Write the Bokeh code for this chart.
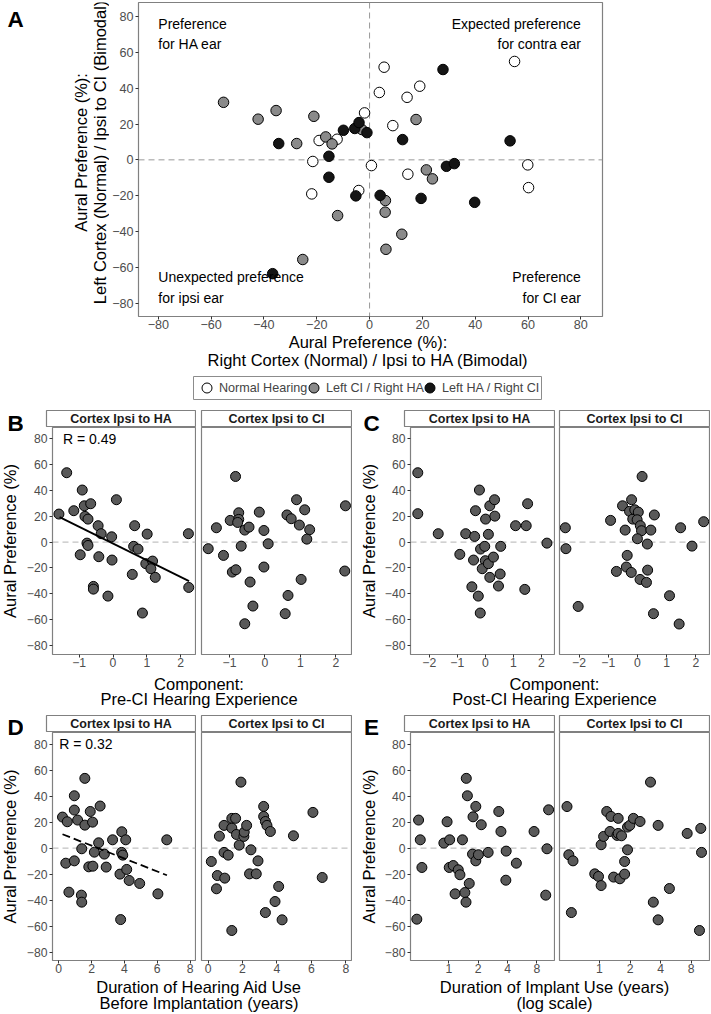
from math import pi
from bokeh.plotting import figure
from bokeh.models import (Range1d, Span, FixedTicker, Legend, LegendItem,
                          Spacer, BasicTickFormatter)
from bokeh.layouts import row, column
from bokeh.embed import file_html
from bokeh.resources import INLINE
from bokeh.core.properties import value

FONT = "Liberation Sans"
NAN = float("nan")

# ---------------- data ----------------
pref_ticks = [-80, -60, -40, -20, 0, 20, 40, 60, 80]
facet_names = ["Cortex Ipsi to HA", "Cortex Ipsi to CI"]
legend_names = ["Normal Hearing", "Left CI / Right HA", "Left HA / Right CI"]
group_fills = ["white", "#8a8a8a", "#151515"]

# Panel A
A_nh_x = [5.5, 54.9, 3.7, 19.0, 14.2, -1.9, 8.8, 0.7, 14.5, 59.9, 60.2, -4.1, -12.3, -19.1, -21.5, -21.9]
A_nh_y = [51.7, 54.9, 37.6, 41.1, 34.9, 26.2, 19.1, -3.2, -8.0, -2.8, -15.5, -17.1, 11.5, 10.8, -0.9, -19.0]
A_lci_x = [-55.3, -42.2, -35.4, -21.1, -27.6, -16.6, -14.2, -2.9, -12.1, 6.0, 5.9, 12.2, 6.2, -25.3, 17.6, 21.5, 23.8]
A_lci_y = [32.1, 22.7, 27.5, 24.3, 9.1, 12.8, 8.9, 16.9, -31.1, -22.7, -29.2, -41.5, -49.9, -55.6, 22.5, -5.6, -10.6]
A_lha_x = [-34.4, -15.4, -15.4, -9.9, -5.6, -4.0, -1.0, -5.2, 4.0, 12.5, 19.5, -36.7, 27.8, 53.2, 29.1, 32.1, 39.8]
A_lha_y = [9.1, 2.0, -9.7, 16.5, 17.5, 20.8, 15.2, -20.1, -19.8, 11.3, -21.5, -63.5, 50.4, 10.6, -3.6, -2.1, -23.7]
A_quadrant_text_left = ["Preference", "for HA ear", "Unexpected preference", "for ipsi ear"]
A_quadrant_text_right = ["Expected preference", "for contra ear", "Preference", "for CI ear"]
A_xtitle = ["Aural Preference (%):", "Right Cortex (Normal) / Ipsi to HA (Bimodal)"]
A_ytitle = ["Aural Preference (%):", "Left Cortex (Normal) / Ipsi to CI (Bimodal)"]

# Panel B: Pre-CI component
B_xticks = [-1, 0, 1, 2]
B_ha_x = [-1.60, -1.37, -1.16, -0.91, -0.85, -0.66, -0.83, -0.74, 0.10, -0.44, -0.35, 0.64, -0.04, 1.01, 2.23, -0.77,
          -0.74, -0.97, -0.42, -0.03, 0.61, 0.74, 0.57, 0.97, 1.17, 1.12, 1.25, 2.24, -0.58, -0.58, -0.15, 0.87]
B_ha_y = [21.7, 53.7, 24.3, 40.3, 28.1, 29.7, 19.9, 17.8, 32.8, 12.7, 6.5, 12.7, 4.1, 6.2, 6.5, -0.8,
          -2.6, -9.8, -11.3, -13.9, -3.3, -5.4, -25.0, -16.7, -14.7, -20.6, -27.3, -35.1, -34.3, -36.4, -41.8, -54.9]
B_ci_x = [-1.60, -1.37, -1.17, -0.98, -0.83, -0.74, -0.74, -0.77, -0.92, -0.82, -0.67, -0.57, -0.45, -0.42, -0.34, -0.57,
          -0.16, -0.03, 0.09, -0.03, 0.62, 0.74, 0.89, 0.97, 1.12, 1.26, 1.18, 1.02, 0.65, 0.57, 2.27, 2.25]
B_ci_y = [-5.1, 11.1, -10.3, 16.8, 50.8, 22.7, 17.6, 15.2, -23.2, -21.4, -3.1, 9.3, 11.6, -30.9, -49.5, -63.2,
          23.2, 9.0, -1.3, -19.3, 21.0, 18.1, 32.8, 13.2, 25.0, 9.6, 2.3, -28.9, -41.3, -55.4, 28.1, -22.4]
B_fit_x = [-1.58, 2.25]
B_fit_y = [19.3, -30.2]
B_r_text = "R = 0.49"

# Panel C: Post-CI component
C_xticks = [-2, -1, 0, 1, 2]
C_ha_x = [-2.41, -2.41, -1.68, -0.91, -0.70, -0.38, -0.35, -0.21, -0.42, -0.48, -0.25, -0.18, -0.17, -0.02, 0.01, 0.11,
          0.16, 0.33, 0.34, 0.00, -0.11, 0.11, 0.29, 0.16, 0.47, 0.55, 0.53, 1.08, 1.46, 1.41, 1.51, 2.20]
C_ha_y = [53.7, 22.0, 6.5, -9.5, 6.5, 4.4, 24.3, 40.3, -13.9, -34.6, -41.8, -54.9, -5.4, -3.3, 17.8, 6.0,
          28.1, 32.8, 20.1, -14.4, -20.6, -16.7, -11.6, -27.3, -34.0, -3.3, -24.7, 12.7, 12.7, -36.6, 29.7, -0.8]
C_ci_x = [-2.47, -2.45, -2.03, -0.92, -0.72, -0.51, -0.42, -0.35, -0.38, -0.21, -0.20, -0.27, -0.16, -0.09, 0.03, -0.01,
          0.10, 0.14, 0.00, 0.09, 0.31, 0.35, 0.34, 0.16, 0.46, 0.58, 0.55, 1.10, 1.43, 1.48, 1.87, 2.27]
C_ci_y = [11.1, -5.1, -49.8, 16.8, -22.7, 28.1, 9.3, -10.3, -19.3, -23.5, 32.8, 23.8, 17.8, 25.0, 23.2, 17.3,
          12.7, 8.8, 2.6, -28.9, -31.2, -21.7, -1.5, 50.8, 9.3, 21.0, -55.4, -41.5, -63.4, 11.1, -3.1, 15.8]

# Panel D: hearing aid duration (years)
D_xticks = [0, 2, 4, 6, 8]
D_ha_x = [0.23, 0.52, 0.43, 0.95, 0.95, 1.15, 0.95, 0.62, 1.38, 1.40, 1.40, 1.59, 1.59, 1.83, 2.08, 1.92, 2.06,
          2.17, 2.43, 2.52, 2.78, 2.89, 3.28, 3.73, 3.77, 3.84, 3.83, 3.90, 4.08, 4.14, 4.29, 4.93, 6.04, 6.58]
D_ha_y = [23.9, 20.3, -11.6, 40.3, 29.3, 21.6, -9.8, -33.9, -36.2, -41.6, -0.5, 53.7, 17.7, -14.4, -13.9, 28.2, 20.0,
          -3.1, 4.1, 32.4, -4.6, -14.6, 6.4, -20.0, -55.0, 12.6, -3.3, -5.4, 6.4, -16.4, -24.9, -27.2, -35.2, 6.4]
D_ci_x = [0.19, 0.54, 0.49, 0.66, 0.93, 0.97, 0.93, 1.17, 1.38, 1.60, 1.38, 1.65, 1.91, 1.81, 2.08, 2.10, 2.24,
          1.38, 2.49, 2.41, 2.80, 2.90, 3.33, 3.23, 3.23, 3.33, 3.42, 3.62, 3.89, 4.10, 4.30, 4.96, 6.09, 6.63]
D_ci_y = [-10.3, -21.1, -31.3, 9.2, 17.5, -23.1, -3.3, -5.4, 22.9, 22.9, 15.4, 10.5, 50.8, 2.3, 9.0, 12.3, 17.5,
          -63.4, -1.3, -19.8, -19.8, -9.8, -49.6, 32.1, 24.4, 20.5, 17.5, 12.8, -41.1, -29.5, -55.2, 9.5, 27.5, -22.6]
D_fit_x = [0.23, 6.59]
D_fit_y = [10.7, -20.9]
D_r_text = "R = 0.32"

# Panel E: implant duration (years, log scale)
E_xticks = [1, 2, 4, 8]
E_ha_x = [0.47, 0.49, 0.51, 0.53, 0.96, 0.89, 1.02, 1.01, 1.11, 1.25, 1.30, 1.16, 1.38, 1.51, 1.55, 1.46, 1.50,
          1.62, 1.77, 1.89, 1.75, 1.89, 2.01, 2.15, 2.53, 3.25, 3.42, 3.87, 3.84, 4.92, 7.47, 10.53, 10.13, 9.84]
E_ha_y = [-54.7, 21.6, 6.4, -14.9, 20.3, 3.9, 6.4, -14.9, -13.4, -16.7, -20.5, -35.2, 6.4, 53.7, 40.3, -34.2, -41.6,
          -27.2, 24.1, 32.1, -4.6, -9.8, -5.1, 18.0, -3.3, 28.2, 12.8, -2.3, -24.7, -11.6, 12.8, 29.5, -0.5, -36.2]
E_ci_x = [0.48, 0.50, 0.55, 0.53, 0.90, 0.98, 1.04, 1.04, 1.10, 1.18, 1.30, 1.27, 1.38, 1.49, 1.53, 1.53, 1.59,
          1.65, 1.77, 1.77, 1.89, 1.89, 1.99, 2.16, 2.51, 3.18, 3.39, 3.78, 3.78, 4.88, 7.30, 9.93, 10.1, 9.64]
E_ci_y = [32.0, -5.1, -9.8, -49.6, -19.8, -21.8, -28.8, 2.6, 9.0, 28.2, 24.4, 12.8, -22.3, 9.8, 22.9, 11.3, -23.6,
          9.5, -10.3, -20.0, -1.3, 16.2, 17.5, 22.9, 20.5, 50.8, -41.6, 17.5, -55.2, -31.1, 11.3, 15.2, -3.3, -63.4]

# ---------------- style helpers ----------------
FRAME = "#808080"
TITLE_SIZE = "16.5px"


def style_axes(p, tick_size):
    p.grid.visible = False
    p.outline_line_color = FRAME
    p.outline_line_width = 1.2
    for ax in p.axis:
        ax.axis_line_color = None
        ax.major_tick_line_color = "#333333"
        ax.major_tick_in = 0
        ax.major_tick_out = 3
        ax.minor_tick_line_color = None
        ax.major_label_text_font = FONT
        ax.major_label_text_font_size = tick_size
        ax.major_label_text_color = "#4d4d4d"
    for ax in p.xaxis:
        ax.major_label_standoff = 0
    for ax in p.yaxis:
        ax.major_label_standoff = 2


def text_fig(w, h):
    p = figure(width=w, height=h, x_range=Range1d(0, w), y_range=Range1d(0, h),
               toolbar_location=None, output_backend="svg", min_border=0,
               x_axis_location=None, y_axis_location=None)
    p.outline_line_color = None
    p.grid.visible = False
    return p


def put_text(p, x, y_top, txt, size, bold=False, angle=0.0, align="center"):
    p.text(x=[x], y=[p.height - y_top], text=[txt], angle=angle,
           text_align=value(align), text_baseline=value("middle"),
           text_font=value(FONT), text_font_size=value(size),
           text_font_style=value("bold" if bold else "normal"), text_color="black")


def strip_fig(label, fw):
    p = figure(width=fw + 2, height=18, x_range=Range1d(0, fw), y_range=Range1d(0, 17),
               toolbar_location=None, output_backend="svg",
               min_border_left=1, min_border_right=1, min_border_top=1, min_border_bottom=0,
               x_axis_location=None, y_axis_location=None)
    p.grid.visible = False
    p.outline_line_color = FRAME
    p.outline_line_width = 1.2
    p.text(x=[fw / 2], y=[8.3], text=[label], text_align=value("center"), text_baseline=value("middle"),
           text_font=value(FONT), text_font_size=value("12.5px"), text_font_style=value("bold"),
           text_color="#1a1a1a")
    return p


def facet_fig(w, left, frame_h, xr, yr, xticks, xs, ys, xlog=False, yaxis=True):
    p = figure(width=w, height=frame_h + 17, x_range=Range1d(*xr), y_range=Range1d(*yr),
               x_axis_type="log" if xlog else "linear",
               y_axis_location="left" if yaxis else None,
               toolbar_location=None, output_backend="svg",
               min_border_left=left, min_border_right=1, min_border_top=0, min_border_bottom=17)
    style_axes(p, "12.2px")
    p.xaxis.ticker = FixedTicker(ticks=xticks)
    if xlog:
        p.xaxis.formatter = BasicTickFormatter()
    if yaxis:
        p.yaxis.ticker = FixedTicker(ticks=pref_ticks)
    p.add_layout(Span(location=0, dimension="width", line_color="#b3b3b3",
                      line_dash="6 4", line_width=1, level="underlay"))
    p.scatter(xs, ys, size=10, fill_color="#595959", line_color="black", line_width=1)
    return p


def r_text(p, x, txt):
    p.text(x=[x], y=[80], text=[txt], text_align=value("left"), text_baseline=value("middle"),
           text_font=value(FONT), text_font_size=value("14px"), text_color="black")


# ---------------- Panel A ----------------
textA = text_fig(109, 333)
put_text(textA, 15, 17.5, "A", "22.5px", bold=True)
put_text(textA, 80.5, 159, A_ytitle[0], TITLE_SIZE, angle=pi / 2)
put_text(textA, 99, 159, A_ytitle[1], TITLE_SIZE, angle=pi / 2)

pA = figure(width=602, height=333, x_range=Range1d(-87.5, 88.2), y_range=Range1d(-87.4, 87.8),
            toolbar_location=None, output_backend="svg",
            min_border_left=24, min_border_right=109, min_border_top=2, min_border_bottom=17)
style_axes(pA, "12.6px")
pA.xaxis.ticker = FixedTicker(ticks=pref_ticks)
pA.yaxis.ticker = FixedTicker(ticks=pref_ticks)
pA.add_layout(Span(location=0, dimension="width", line_color="#999999", line_dash="6 4",
                   line_width=1, level="underlay"))
pA.add_layout(Span(location=0, dimension="height", line_color="#999999", line_dash="6 4",
                   line_width=1, level="underlay"))
pA.scatter(A_nh_x, A_nh_y, size=10.5, fill_color=group_fills[0], line_color="black", line_width=1)
pA.scatter(A_lci_x, A_lci_y, size=10.5, fill_color=group_fills[1], line_color="black", line_width=1)
pA.scatter(A_lha_x, A_lha_y, size=10.5, fill_color=group_fills[2], line_color="black", line_width=1)

pA.text(x=[-80, -80, -80, -80], y=[75.8, 64.9, -65.6, -76.8], text=A_quadrant_text_left,
        text_align=value("left"), text_baseline=value("middle"),
        text_font=value(FONT), text_font_size=value("14px"), text_color="black")
pA.text(x=[80, 80, 80, 80], y=[75.8, 64.9, -65.6, -76.8], text=A_quadrant_text_right,
        text_align=value("right"), text_baseline=value("middle"),
        text_font=value(FONT), text_font_size=value("14px"), text_color="black")

titleA = text_fig(711, 42)
put_text(titleA, 367.5, 8.5, A_xtitle[0], TITLE_SIZE)
put_text(titleA, 367.5, 26, A_xtitle[1], TITLE_SIZE)

# legend box (key renderers hold a single non-finite point, so only the legend keys show)
legbox = figure(width=350, height=25, x_range=Range1d(0, 348), y_range=Range1d(0, 23),
                toolbar_location=None, output_backend="svg", min_border=1,
                x_axis_location=None, y_axis_location=None)
legbox.grid.visible = False
legbox.outline_line_color = "#8c8c8c"
legbox.outline_line_width = 1
for name, fill, lx in zip(legend_names, group_fills, [1, 108, 224]):
    key = legbox.scatter(x=[NAN], y=[NAN], size=10.5, fill_color=fill, line_color="black", line_width=1)
    leg = Legend(items=[LegendItem(label=name, renderers=[key])],
                 orientation="horizontal", location=(lx, -1),
                 glyph_width=25, glyph_height=25, padding=0, spacing=0, label_standoff=0,
                 margin=0, border_line_color=None, background_fill_alpha=0,
                 label_text_font=FONT, label_text_font_size="12.6px", label_height=25)
    legbox.add_layout(leg, "center")

topA = column(row(textA, pA),
              titleA,
              row(Spacer(width=192, height=25), legbox, Spacer(width=169, height=25)),
              Spacer(width=711, height=9))


# ---------------- facet panels ----------------
def half_block(letter, tl, al, fwL, gap, fwR, pad, frame_h, yr, letter_y, xr, xticks,
               ha_x, ha_y, ci_x, ci_y, xlog=False, letter_x=15.0, ytitle_x=9.2,
               fit=None, fit_dash=None, rtxt=None, rx=None):
    tcol = text_fig(tl, 18 + frame_h + 17)
    put_text(tcol, letter_x, letter_y, letter, "22.5px", bold=True)
    put_text(tcol, ytitle_x, 18 + frame_h / 2, "Aural Preference (%)", TITLE_SIZE, angle=pi / 2)
    strips = row(Spacer(width=al - 1, height=18), strip_fig(facet_names[0], fwL),
                 Spacer(width=gap - 2, height=18), strip_fig(facet_names[1], fwR),
                 Spacer(width=pad, height=18))
    fl = facet_fig(al + fwL + 1, al, frame_h, xr, yr, xticks, ha_x, ha_y, xlog=xlog, yaxis=True)
    fr = facet_fig(gap - 1 + fwR + 1, gap - 1, frame_h, xr, yr, xticks, ci_x, ci_y, xlog=xlog, yaxis=False)
    if fit is not None:
        if fit_dash:
            fl.line(fit[0], fit[1], line_color="black", line_width=1.8, line_dash=fit_dash)
        else:
            fl.line(fit[0], fit[1], line_color="black", line_width=1.8)
    if rtxt is not None:
        r_text(fl, rx, rtxt)
    facets = row(fl, fr, Spacer(width=pad, height=frame_h + 17))
    return row(tcol, column(strips, facets))


def title_block(w, h, cx, lines, tops):
    t = text_fig(w, h)
    for ln, tp in zip(lines, tops):
        put_text(t, cx, tp, ln, TITLE_SIZE)
    return t


B_xrange = (-1.79, 2.44)
C_xrange = (-2.67, 2.47)
D_xrange = (-0.38, 8.33)
E_xrange = (0.405, 12.1)
BC_yrange = (-87.0, 88.7)
DE_yrange = (-86.5, 89.0)

blockB = half_block("B", 23, 23, 149, 6, 150, 3, 227, BC_yrange, 13.5, B_xrange, B_xticks,
                    B_ha_x, B_ha_y, B_ci_x, B_ci_y,
                    fit=(B_fit_x, B_fit_y), rtxt=B_r_text, rx=-1.48)
titleB = title_block(355, 43, 198.5, ["Component:", "Pre-CI Hearing Experience"], [12, 27])
blockD = half_block("D", 23, 23, 149, 6, 150, 3, 228, DE_yrange, 12.5, D_xrange, D_xticks,
                    D_ha_x, D_ha_y, D_ci_x, D_ci_y,
                    fit=(D_fit_x, D_fit_y), fit_dash="8 4", rtxt=D_r_text, rx=0.03)
titleD = title_block(355, 35, 198.5, ["Duration of Hearing Aid Use", "Before Implantation (years)"], [9, 25])

blockC = half_block("C", 26, 23, 150, 5, 150, 1, 227, BC_yrange, 13.5, C_xrange, C_xticks,
                    C_ha_x, C_ha_y, C_ci_x, C_ci_y, letter_x=16.0, ytitle_x=13.7)
titleC = title_block(356, 43, 199, ["Component:", "Post-CI Hearing Experience"], [12, 27])
blockE = half_block("E", 26, 23, 150, 5, 150, 1, 228, DE_yrange, 12.5, E_xrange, E_xticks,
                    E_ha_x, E_ha_y, E_ci_x, E_ci_y, xlog=True, letter_x=16.0, ytitle_x=13.7)
titleE = title_block(356, 35, 199, ["Duration of Implant Use (years)", "(log scale)"], [9, 25])

halfL = column(blockB, titleB, blockD, titleD)
halfR = column(blockC, titleC, blockE, titleE)

layout = column(topA, row(halfL, halfR))

open("out.html", "w").write(file_html(layout, INLINE, "Aural preference"))
